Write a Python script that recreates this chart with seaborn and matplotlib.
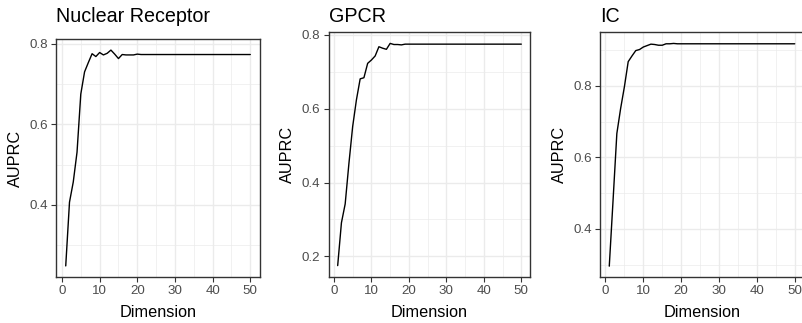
import numpy as np
import pandas as pd
import matplotlib
matplotlib.use("Agg")
import matplotlib.pyplot as plt
import seaborn as sns
from matplotlib.ticker import MultipleLocator

sns.set_theme(style="white")
plt.rcParams['font.family'] = ['Liberation Sans', 'DejaVu Sans']

dims = list(range(1, 51))

nr_vals = [0.249, 0.407, 0.457, 0.531, 0.675, 0.730, 0.753, 0.775, 0.768, 0.778,
           0.772, 0.776, 0.784, 0.774, 0.763, 0.773, 0.772, 0.772, 0.772, 0.774] + [0.773] * 30
gpcr_vals = [0.175, 0.291, 0.342, 0.452, 0.552, 0.624, 0.681, 0.684, 0.723, 0.732,
             0.743, 0.768, 0.764, 0.761, 0.777, 0.774, 0.774, 0.773, 0.775, 0.775] + [0.775] * 30
ic_vals = [0.296, 0.480, 0.667, 0.737, 0.798, 0.868, 0.884, 0.899, 0.902, 0.909,
           0.913, 0.917, 0.916, 0.914, 0.914, 0.918, 0.918, 0.919, 0.918, 0.918] + [0.918] * 30

titles = ["Nuclear Receptor", "GPCR", "IC"]
series = [nr_vals, gpcr_vals, ic_vals]

W, H = 803, 323
fig = plt.figure(figsize=(W / 100, H / 100), dpi=100)

# (left, right, top, bottom) in pixels
boxes = [(56.5, 259.5, 39.3, 276.7), (328.5, 530.5, 32.3, 276.7), (600.0, 804.0, 32.3, 277.3)]
ylab_x = [15.5, 287.5, 559.5]
yticks = [[0.4, 0.6, 0.8], [0.2, 0.4, 0.6, 0.8], [0.4, 0.6, 0.8]]

for title, vals, (l, r, t, b), yt, ylx in zip(titles, series, boxes, yticks, ylab_x):
    ax = fig.add_axes([l / W, (H - b) / H, (r - l) / W, (b - t) / H])
    df = pd.DataFrame({"Dimension": dims, "AUPRC": vals})
    sns.lineplot(data=df, x="Dimension", y="AUPRC", ax=ax, color="black", linewidth=1.0)
    ax.set_xlim(-1.45, 52.45)
    lo, hi = min(vals), max(vals)
    pad = (hi - lo) * 0.05
    ax.set_ylim(lo - pad, hi + pad)
    ax.set_xticks([0, 10, 20, 30, 40, 50])
    ax.xaxis.set_minor_locator(MultipleLocator(5))
    ax.set_yticks(yt)
    ax.set_yticklabels([f"{v:.1f}" for v in yt])
    ax.yaxis.set_minor_locator(MultipleLocator(0.1))
    ax.grid(True, which="major", color="#EBEBEB", linewidth=1.0)
    ax.grid(True, which="minor", color="#EBEBEB", linewidth=0.5)
    ax.set_axisbelow(True)
    for sp in ax.spines.values():
        sp.set_color("#333333")
        sp.set_linewidth(1.0)
        sp.set_visible(True)
    ax.tick_params(which="major", length=3.3, width=0.8, color="#333333",
                   labelsize=9.6, labelcolor="#4D4D4D", pad=2.5, bottom=True, left=True)
    ax.tick_params(which="minor", length=0, bottom=False, left=False)
    ax.set_xlabel("Dimension", fontsize=11.7, color="black")
    ax.xaxis.label.set_va("baseline")
    ax.xaxis.set_label_coords(0.5, (b - 316.7) / (b - t))
    ax.set_ylabel("AUPRC", fontsize=11.7, color="black")
    ax.yaxis.label.set_va("center")
    ax.yaxis.set_label_coords((ylx - l) / (r - l), 0.5)
    fig.text(l / W, 1 - 21.5 / H, title, ha="left", va="baseline",
             fontsize=14.2, color="black")

fig.savefig("out.png", dpi=100)
